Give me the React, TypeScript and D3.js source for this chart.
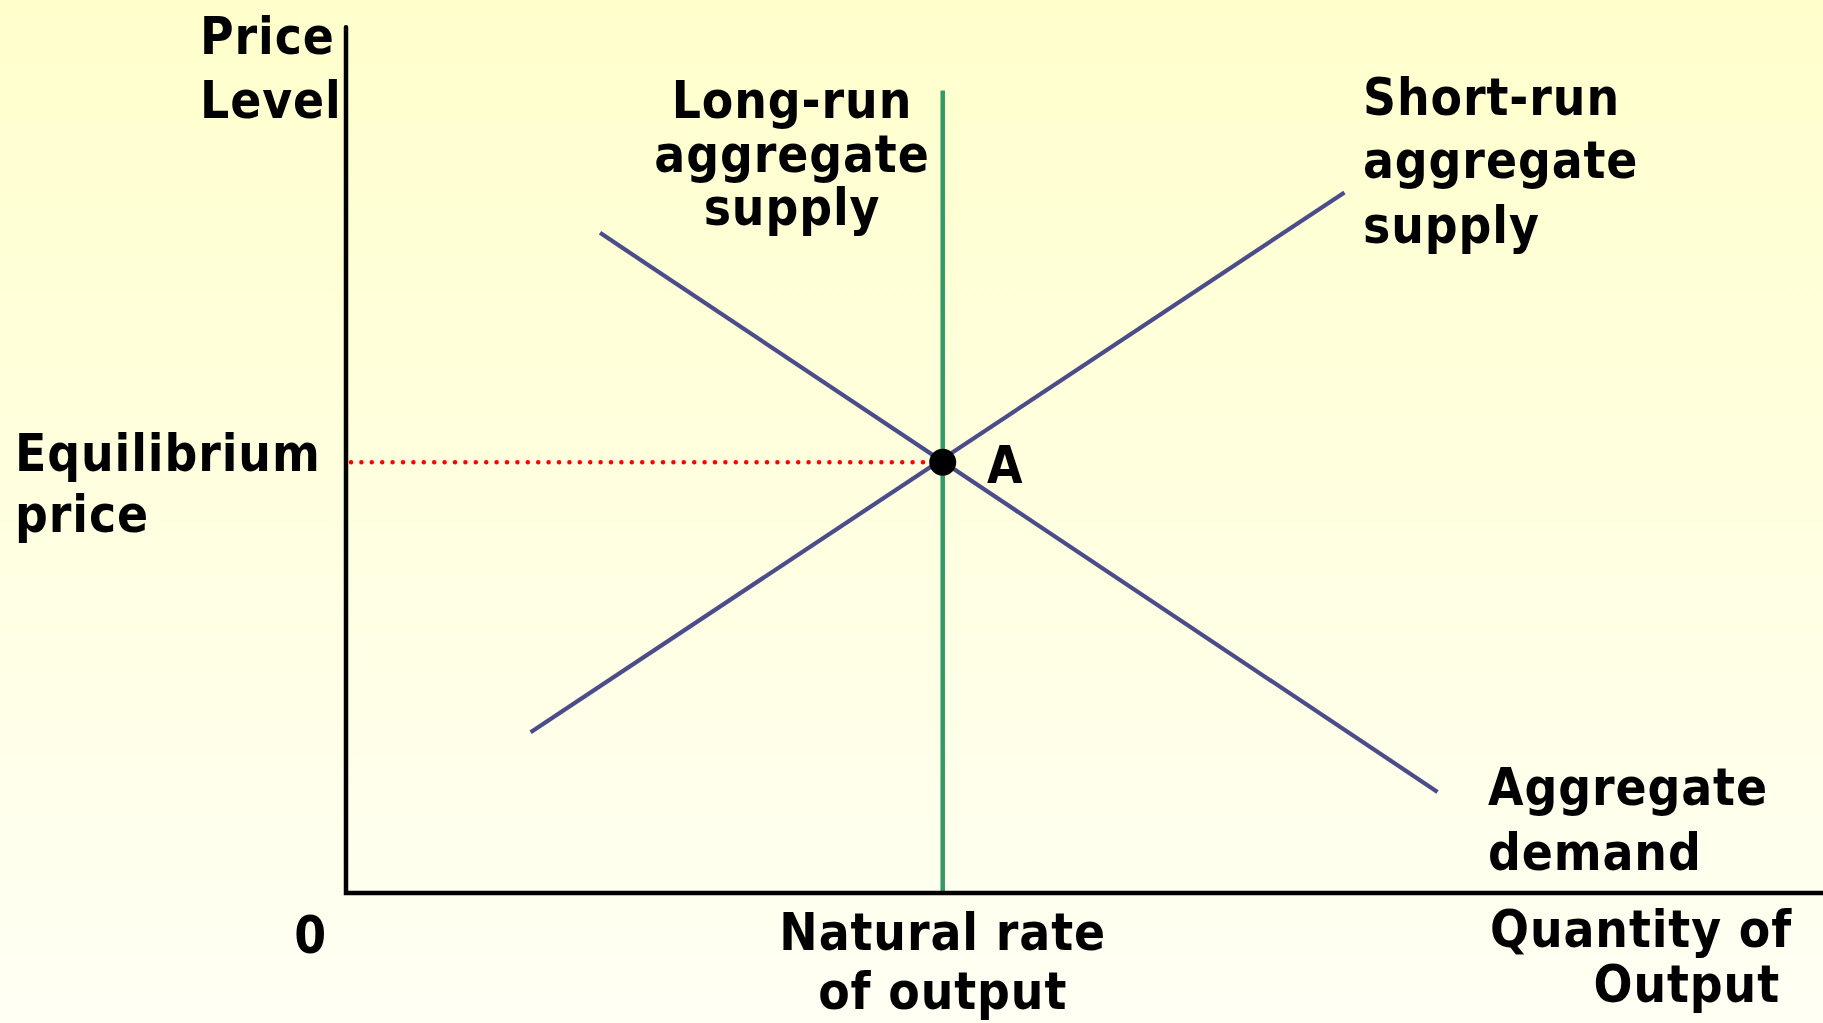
import React from "react";
import * as d3 from "d3";

// ---- data (model units) ----
const naturalRate = 40.4; // quantity at long-run supply
const equilibriumPrice = 49.0;
const lrasTop = 91.3;
const adPoints: [number, number][] = [
  [17.2, 75.1],
  [73.9, 11.5],
];
const srasPoints: [number, number][] = [
  [12.5, 18.3],
  [67.6, 79.7],
];
const yAxisLabel = ["Price", "Level"];
const xAxisLabel = ["Quantity of", "Output"];
const eqLabel = ["Equilibrium", "price"];
const naturalLabel = ["Natural rate", "of output"];
const lrasLabel = ["Long-run", "aggregate", "supply"];
const srasLabel = ["Short-run", "aggregate", "supply"];
const adLabel = ["Aggregate", "demand"];
const originLabel = "0";
const pointLabel = "A";

const W = 1823;
const H = 1023;
const FONT = "'DejaVu Sans Condensed', 'DejaVu Sans', sans-serif";
const FS = 51;

export default function App() {
  const x = d3.scaleLinear().domain([0, 100]).range([346, 1823]);
  const y = d3.scaleLinear().domain([0, 100]).range([893, 14]);
  const line = d3
    .line<[number, number]>()
    .x((d) => x(d[0]))
    .y((d) => y(d[1]));

  const txt = (
    lines: string[],
    px: number,
    baselines: number[],
    anchor: "start" | "middle" | "end" = "start"
  ) =>
    lines.map((t, i) => (
      <text
        key={t + i}
        x={px}
        y={baselines[i]}
        textAnchor={anchor}
        fontFamily={FONT}
        fontWeight="bold"
        fontSize={FS}
        letterSpacing={0.9}
        fill="#000"
      >
        {t}
      </text>
    ));

  return (
    <svg
      width={W}
      height={H}
      style={{ position: "fixed", left: 0, top: 0, display: "block" }}
    >
      <defs>
        <linearGradient id="bg" x1="0" y1="0" x2="0" y2="1">
          <stop offset="0" stopColor="#FFFFCC" />
          <stop offset="1" stopColor="#FFFFF4" />
        </linearGradient>
      </defs>
      <rect x={0} y={0} width={W} height={H} fill="url(#bg)" />

      {/* dotted equilibrium price line */}
      <line
        x1={x(0) + 5}
        x2={x(naturalRate)}
        y1={y(equilibriumPrice)}
        y2={y(equilibriumPrice)}
        stroke="#FF0000"
        strokeWidth={4.5}
        strokeLinecap="round"
        strokeDasharray="0 10.4"
      />

      {/* LRAS */}
      <line
        x1={x(naturalRate)}
        x2={x(naturalRate)}
        y1={y(0)}
        y2={y(lrasTop)}
        stroke="#339966"
        strokeWidth={4.5}
      />

      {/* AD and SRAS */}
      <path d={line(adPoints) || ""} stroke="#4B4C8A" strokeWidth={4.2} fill="none" />
      <path d={line(srasPoints) || ""} stroke="#4B4C8A" strokeWidth={4.2} fill="none" />

      {/* axes */}
      <path
        d={`M${x(0)},${y(98.5)} L${x(0)},${y(0)} L${x(100)},${y(0)}`}
        stroke="#000"
        strokeWidth={4.5}
        fill="none"
        strokeLinecap="round"
      />

      {/* equilibrium point */}
      <circle cx={x(naturalRate)} cy={y(equilibriumPrice)} r={13.5} fill="#000" />

      {txt(yAxisLabel, 200, [54, 118])}
      {txt(eqLabel, 15, [471, 532])}
      {txt([originLabel], 327, [953], "end")}
      {txt(naturalLabel, x(naturalRate), [950, 1009], "middle")}
      {txt(lrasLabel, 792, [118, 172, 225], "middle")}
      {txt(srasLabel, 1363, [115, 178, 243])}
      {txt(adLabel, 1488, [805, 870])}
      {txt([xAxisLabel[0]], 1490, [947])}
      {txt([xAxisLabel[1]], 1780, [1002], "end")}
      {txt([pointLabel], 987, [483])}
    </svg>
  );
}
